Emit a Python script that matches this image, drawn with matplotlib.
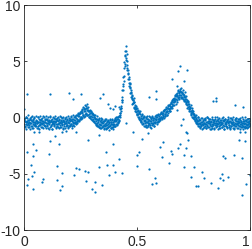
import numpy as np
import matplotlib
matplotlib.use('Agg')
import matplotlib.pyplot as plt

# dense band of the noisy signal, first pass: x runs 0..1 in 501 samples
signalY = [
    -0.12, -0.55, -0.31, -0.78, -0.42, 0.05, -0.63, -0.29, -0.48, -0.85, -0.20, -0.37, -0.66, -0.14, -0.52, -0.44, 0.10, -0.71, -0.33, -0.58, -0.25, -0.90, -0.41, -0.06, -0.60,
    -0.35, -0.74, -0.18, -0.50, -0.27, -0.95, -0.43, 0.02, -0.62, -0.38, -0.21, -0.69, -0.47, -0.10, -0.56, -0.82, -0.30, -0.45, 0.12, -0.65, -0.39, -0.23, -0.76, -0.52, -0.16,
    -0.44, -0.08, -0.61, -0.34, -0.88, -0.26, -0.53, -0.40, 0.08, -0.72, -0.19, -0.57, -0.36, -0.98, -0.28, -0.49, -0.04, -0.66, -0.41, -0.15, -0.80, -0.32, -0.55, -0.22, -0.70,
    -0.29, -0.60, -0.11, -0.46, -0.83, -0.37, 0.06, -0.52, -0.24, -0.68, -0.40, -0.17, -0.91, -0.33, -0.58, -0.02, -0.45, -0.74, -0.27, -0.50, -0.13, -0.64, -0.35, -0.86, -0.21,
    -0.48, -0.10, -0.62, -0.25, 0.08, -0.55, -0.31, -0.73, -0.12, -0.40, 0.05, -0.52, -0.18, 0.12, -0.44, -0.02, -0.38, 0.20, -0.30, 0.14, -0.26, 0.30, -0.18, 0.41, -0.05,
    0.38, -0.10, 0.05, 0.52, 0.66, 0.22, 0.15, 0.74, 0.90, 0.33, 0.12, 0.78, 1.05, 0.45, 0.28, 0.85, 0.71, 0.20, 0.04, 0.62, 0.55, 0.18, -0.05, 0.48, -0.12,
    0.40, -0.20, 0.28, -0.30, 0.22, -0.41, 0.10, -0.45, -0.02, -0.58, -0.08, -0.62, -0.15, -0.70, -0.22, -0.55, 0.00, -0.83, -0.30, -0.64, -0.19, -0.88, -0.41, -0.12, -0.73,
    -0.52, -0.95, -0.28, -0.61, -0.10, -0.77, -0.45, -0.99, -0.33, -0.69, -0.18, -0.58, -0.86, -0.40, -0.72, -0.25, -0.63, -0.92, -0.36, -0.55, -0.08, -0.81, -0.43, -0.67, -0.21,
    -0.60, -0.15, -0.74, -0.30, 0.02, -0.58, -0.12, -0.49, 0.05, -0.35, 0.18, -0.20, 0.45, 0.20, 0.88, 0.62, 1.55, 1.40, 2.45, 2.50, 3.62, 3.70, 4.95, 4.80, 5.95,
    6.35, 5.30, 5.65, 4.40, 4.20, 3.95, 3.45, 3.10, 2.80, 2.65, 2.20, 2.30, 1.85, 1.75, 1.95, 1.20, 1.55, 1.30, 0.85, 1.40, 0.95, 0.60, 1.05, 0.75, 0.35,
    0.20, 0.85, 0.05, 0.62, -0.10, 0.48, -0.25, 0.30, -0.35, 0.15, -0.42, 0.22, -0.55, -0.05, -0.60, -0.18, 0.15, -0.70, -0.28, 0.08, -0.62, -0.35, -0.85, -0.12, -0.50,
    -0.72, -0.20, -0.45, 0.05, -0.66, -0.30, -0.92, -0.15, -0.48, 0.10, -0.58, -0.25, -0.74, -0.02, -0.40, 0.18, -0.50, -0.12, 0.25, -0.38, 0.05, -0.28, 0.32, -0.15, 0.12,
    -0.22, 0.35, -0.05, 0.10, 0.52, 0.45, -0.08, 0.05, 0.25, 0.70, 0.58, 0.12, 0.35, 0.80, 0.95, 0.48, 0.22, 0.55, 0.88, 1.10, 0.62, 0.78, 1.25, 1.02, 0.60,
    1.35, 0.85, 1.05, 1.50, 1.62, 1.10, 1.40, 1.78, 1.55, 1.95, 1.45, 1.70, 2.10, 1.38, 1.90, 2.35, 1.75, 2.05, 2.25, 1.85, 2.55, 2.40, 1.80, 2.05, 2.30,
    1.75, 2.45, 2.10, 1.90, 1.55, 2.05, 1.85, 1.50, 1.25, 1.68, 1.55, 1.10, 0.95, 1.35, 1.20, 0.75, 0.62, 0.95, 0.82, 0.40, 0.25, 0.70, 0.48, 0.10, -0.05,
    0.40, -0.10, 0.25, -0.30, 0.12, -0.45, -0.05, -0.52, -0.18, 0.08, -0.60, -0.28, -0.75, -0.10, -0.48, -0.85, -0.35, -0.62, -0.05, -0.55, -0.92, -0.30, -0.68, -0.15, -0.47,
    -0.70, -0.22, -0.55, -0.95, -0.38, 0.02, -0.61, -0.30, -0.82, -0.45, -0.12, -0.66, -0.40, -1.00, -0.28, -0.53, -0.08, -0.74, -0.35, -0.58, -0.20, -0.88, -0.47, -0.15, -0.63,
    -0.32, -0.78, -0.50, 0.05, -0.60, -0.26, -0.91, -0.42, -0.18, -0.69, -0.36, -0.55, -0.02, -0.80, -0.44, -0.23, -0.65, -0.97, -0.31, -0.52, -0.10, -0.73, -0.39, -0.58, -0.25,
    -0.84, -0.43, -0.16, -0.62, -0.35, -0.95, -0.28, -0.50, 0.00, -0.71, -0.46, -0.20, -0.66, -0.38, -0.89, -0.55, -0.13, -0.77, -0.33, -0.60, -0.05, -0.48, -0.93, -0.27, -0.68,
    -0.41, -0.12, -0.75, -0.54, -0.22, -0.86, -0.37, -0.63, 0.04, -0.49, -0.30, -0.79, -0.45, -0.18, -0.70, -0.96, -0.34, -0.57, -0.09, -0.64, -0.40, -0.82, -0.26, -0.51, -0.15,
    -0.58,
]
signalX = np.linspace(0, 1, len(signalY))

# second pass of the band, samples halfway between the first ones (0.001 .. 0.999)
signalY2 = [
    -0.10, -0.30, -0.80, 0.10, -0.60, -1.00, -0.40, -0.05, -0.55, 0.20, -0.85, -0.20, -0.45, -1.05, 0.00, -0.25, -0.70, 0.15, -0.95, -0.35, -0.15, -0.65, 0.05, -0.75, -0.50,
    -0.65, 0.12, -0.28, -0.90, -0.45, 0.02, -0.72, -0.15, -1.02, -0.38, -0.58, 0.18, -0.20, -0.82, -0.05, -0.48, -0.95, -0.30, 0.08, -0.62, -0.12, -0.78, -0.42, 0.15, -0.88,
    -0.22, -0.70, 0.10, -0.52, -0.98, -0.18, -0.40, 0.16, -0.85, -0.30, -0.64, -0.08, -1.00, -0.46, 0.04, -0.26, -0.76, -0.55, 0.12, -0.36, -0.90, -0.14, -0.60, -0.02, -0.80,
    0.06, -0.48, -0.92, -0.20, -0.66, 0.14, -0.34, -0.80, -0.06, -0.56, -1.04, -0.28, 0.10, -0.74, -0.42, -0.12, -0.88, -0.50, 0.02, -0.62, -0.24, -0.96, -0.38, 0.12, -0.70,
    -0.05, -0.70, -0.30, 0.18, -0.58, -0.90, -0.10, -0.45, 0.22, -0.62, -0.18, -0.78, 0.10, -0.35, -0.55, 0.26, -0.08, -0.48, 0.32, -0.20, 0.45, -0.30, 0.15, 0.52, -0.10,
    0.10, 0.62, 0.40, -0.05, 0.80, 0.28, 0.95, 0.55, 0.10, 1.10, 0.62, 0.30, 0.90, 0.70, 1.20, 0.25, 0.60, 0.95, 0.35, 0.08, 0.72, 0.45, 0.15, 0.60, 0.30,
    0.05, 0.45, -0.10, 0.35, 0.02, -0.30, 0.28, -0.15, -0.62, -0.30, 0.12, -0.48, -0.75, -0.20, -0.40, -0.85, -0.10, -0.55, -0.95, -0.35, -0.68, -0.05, -0.80, -0.52, -0.28,
    -0.75, -0.30, -1.05, -0.55, -0.20, -0.88, -0.62, -0.15, -0.95, -0.42, -0.80, -0.28, -1.08, -0.50, -0.12, -0.70, -0.95, -0.38, -0.60, -0.85, -0.25, -0.55, -1.00, -0.30, -0.72,
    -0.30, -0.72, -0.05, -0.55, -0.20, -0.65, 0.05, -0.35, -0.10, 0.15, -0.30, 0.40, 0.05, 0.75, 1.05, 0.90, 1.85, 1.60, 2.80, 2.95, 3.30, 4.40, 4.55, 5.50, 5.60,
    5.95, 5.10, 4.65, 5.05, 4.20, 3.85, 3.60, 3.40, 3.05, 2.70, 2.95, 2.20, 2.45, 1.70, 2.05, 1.55, 1.30, 1.75, 0.95, 1.40, 0.75, 1.10, 0.50, 0.85, 0.30,
    0.60, 0.30, 0.70, -0.05, 0.40, 0.10, -0.20, 0.55, 0.00, -0.30, 0.35, -0.15, -0.45, 0.10, -0.30, -0.70, 0.05, -0.50, -0.20, -0.80, -0.05, -0.40, 0.12, -0.65, -0.30,
    -0.10, -0.55, 0.12, -0.30, -0.80, -0.45, -0.05, -0.65, 0.15, -0.20, -0.50, -0.02, -0.35, -0.78, -0.15, -0.40, 0.08, -0.25, -0.60, 0.20, -0.10, -0.42, 0.28, -0.05, -0.30,
    0.30, -0.15, 0.10, 0.45, -0.05, 0.32, 0.60, 0.18, 0.40, -0.02, 0.65, 0.35, 0.15, 0.75, 0.50, 0.25, 0.85, 0.62, 1.00, 0.40, 0.75, 1.15, 0.55, 0.90, 1.30,
    0.95, 1.25, 1.55, 0.90, 1.40, 1.70, 1.10, 1.55, 2.00, 1.65, 1.25, 1.90, 2.20, 1.55, 2.00, 2.45, 1.80, 2.15, 1.65, 2.40, 2.05, 1.75, 2.30, 2.60, 1.85,
    2.20, 1.70, 2.10, 1.80, 1.45, 2.25, 1.70, 1.40, 1.95, 1.30, 1.45, 0.90, 1.20, 1.50, 0.80, 1.05, 0.55, 0.90, 1.10, 0.30, 0.55, 0.85, 0.05, 0.35, 0.55,
    0.05, 0.30, -0.25, 0.10, -0.40, 0.20, -0.15, -0.55, -0.30, 0.05, -0.70, -0.45, -0.20, -0.90, -0.55, -0.25, -0.75, 0.00, -0.40, -1.00, -0.60, -0.20, -0.80, -0.45, 0.00,
    -0.15, -0.60, -0.95, -0.35, 0.05, -0.70, -0.48, -0.05, -0.85, -0.28, -1.05, -0.55, -0.10, -0.75, -0.40, 0.08, -0.90, -0.62, -0.20, -0.45, -1.00, -0.30, -0.68, 0.02, -0.52,
    -0.80, -0.25, -0.58, -1.02, -0.12, -0.45, -0.72, 0.00, -0.38, -0.92, -0.60, -0.18, -0.50, -0.85, 0.06, -0.32, -0.70, -1.00, -0.22, -0.55, -0.08, -0.78, -0.42, -0.95, -0.30,
    0.04, -0.50, -0.82, -0.28, -0.65, -0.05, -0.98, -0.40, -0.70, -0.15, -0.58, 0.08, -0.88, -0.35, -0.62, -1.04, -0.20, -0.48, -0.78, -0.02, -0.55, -0.30, -0.90, -0.45, -0.12,
    -0.70, -0.35, -0.98, -0.05, -0.60, -0.28, -0.85, -0.50, -0.15, -0.76, -1.00, -0.32, -0.58, 0.02, -0.45, -0.82, -0.22, -0.65, -0.40, -0.95, -0.10, -0.55, -0.75, -0.30, -0.62,
]
signalX2 = np.linspace(0.001, 0.999, len(signalY2))

# outliers
outlierX = [
    0.043, 0.066, 0.139, 0.168, 0.184, 0.232, 0.041, 0.116, 0.155, 0.012, 0.053, 0.041, 0.112,
    0.031, 0.145, 0.044, 0.037, 0.169, 0.220, 0.231, 0.245, 0.016, 0.084, 0.078, 0.145, 0.015,
    0.167, 0.038, 0.158, 0.332, 0.285, 0.392, 0.363, 0.422, 0.330, 0.369, 0.394, 0.268, 0.283,
    0.403, 0.432, 0.376, 0.273, 0.313, 0.344, 0.300, 0.316, 0.481, 0.451, 0.521, 0.614, 0.692,
    0.724, 0.718, 0.507, 0.499, 0.602, 0.649, 0.656, 0.681, 0.715, 0.709, 0.739, 0.612, 0.499,
    0.554, 0.643, 0.709, 0.740, 0.581, 0.566, 0.585, 0.549, 0.721, 0.695, 0.705, 0.678, 0.751,
    0.788, 0.795, 0.762, 0.768, 0.827, 0.858, 0.866, 0.876, 0.882, 0.901, 0.882, 0.888, 0.928,
    0.965, 0.956, 0.980, 0.951, 0.978, 0.981, 0.965, 0.999,
    0.012, 0.115, 0.200, 0.217, 0.254, 0.336, 0.348, 0.380, 0.401, 0.001, 0.372, 0.394, 0.419,
    0.692, 0.683, 0.721, 0.653, 0.709, 0.584, 0.552, 0.585, 0.678, 0.835, 0.849, 0.850, 0.934, 0.969,
]
outlierY = [
    -1.26, -1.32, -1.60, -1.26, -1.20, -1.26, -2.30, -2.10, -2.36, -3.04, -2.92, -3.45, -3.20,
    -4.25, -4.31, -4.82, -5.18, -4.94, -5.08, -4.49, -4.55, -5.44, -5.44, -5.68, -5.53, -5.97,
    -6.09, -6.39, -6.45, -1.56, -2.00, -2.33, -3.04, -3.66, -4.43, -4.17, -4.25, -4.76, -4.82,
    -4.82, -4.90, -5.11, -5.62, -5.74, -6.00, -6.33, -6.60, -1.29, -0.46, -1.91, -2.15, -2.30,
    -1.97, -1.29, -3.04, -3.31, -2.60, -2.98, -3.22, -2.71, -2.69, -3.31, -3.45, -3.51, -4.28,
    -4.60, -4.07, -4.43, -5.26, -5.35, -5.89, -5.83, -1.35, -1.35, -0.67, -0.10, 0.70, -4.40,
    -4.84, -5.35, -6.12, -6.09, -5.85, -6.27, -5.35, -5.02, -5.58, -5.29, -3.42, -3.60, -3.30,
    -3.60, -1.32, -1.29, -2.00, -2.09, -5.91, -6.90, -5.10,
    2.09, 2.06, 2.20, 1.67, 2.09, 1.76, 2.12, 0.82, 1.05, 0.75, 1.20, 0.73, 0.91,
    4.60, 4.16, 4.22, 3.42, 3.27, 2.38, 1.82, 1.62, 2.85, 1.48, 1.77, 1.47, 1.14, 0.96,
]

xTicks = [0, 0.5, 1]
xTickLabels = ['0', '0.5', '1']
yTicks = [-10, -5, 0, 5, 10]
yTickLabels = ['-10', '-5', '0', '5', '10']


def main():
    plt.rcParams['font.family'] = ['Liberation Sans', 'DejaVu Sans']
    plt.rcParams['axes.unicode_minus'] = False
    axisColor = '#262626'
    dotColor = '#0072BD'

    fig = plt.figure(figsize=(2.52, 2.49), dpi=100)
    ax = fig.add_axes([0.095, 0.076, 0.897, 0.903])

    for xs, ys in [(signalX, signalY), (signalX2, signalY2), (outlierX, outlierY)]:
        ax.plot(xs, ys, linestyle='None', marker='o', markersize=1.6,
                markeredgewidth=0, color=dotColor)

    ax.set_xlim(0, 1)
    ax.set_ylim(-10, 10)
    ax.set_xticks(xTicks)
    ax.set_xticklabels(xTickLabels)
    ax.set_yticks(yTicks)
    ax.set_yticklabels(yTickLabels)

    #MATLAB look: box on, ticks inside on all four sides
    ax.tick_params(direction='in', length=2.5, width=0.6, colors=axisColor,
                   labelsize=10, top=True, right=True)
    ax.tick_params(axis='x', pad=3.5)
    ax.tick_params(axis='y', pad=2.5)
    for side in ax.spines.values():
        side.set_color(axisColor)
        side.set_linewidth(0.6)
    # the last x label sits on the figure edge, keep it inside
    ax.get_xticklabels()[-1].set_horizontalalignment('right')

    fig.savefig('out.png', dpi=100)


if __name__ == "__main__":
    main()
